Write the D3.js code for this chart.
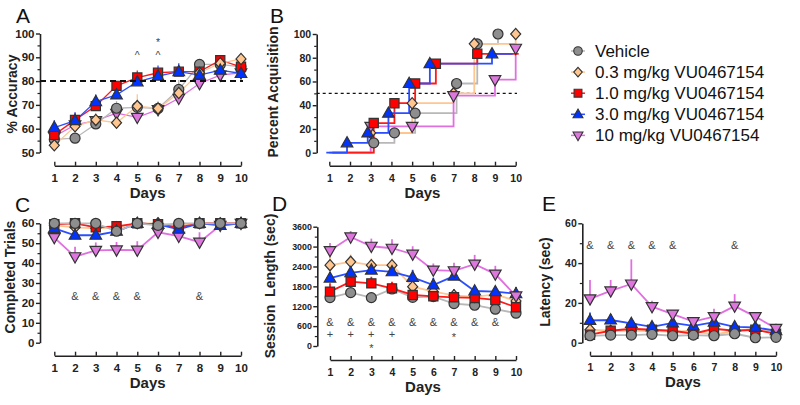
<!DOCTYPE html>
<html><head><meta charset="utf-8">
<script src="https://cdn.jsdelivr.net/npm/d3@7"></script>
<style>body{margin:0;background:#fff} svg{display:block;font-family:"Liberation Sans",Arial,sans-serif}</style>
</head><body><svg id="c" width="800" height="405"></svg>
<script>
// ---------- data ----------
const days = [1,2,3,4,5,6,7,8,9,10];
const groupKeys = ["veh","low","mid","h3","h10"];
const groupNames = ["Vehicle","0.3 mg/kg VU0467154","1.0 mg/kg VU0467154","3.0 mg/kg VU0467154","10 mg/kg VU0467154"];

// A: % accuracy
const accVeh = [55.5,56,62,68.6,69,68.5,76.5,87,87,86];
const accLow = [53,61,63.7,62.5,69.5,68.5,75,83.5,87.5,89.3];
const accMid = [57.4,63.7,69.5,78,81.5,83.5,84,84,88.8,86];
const accH3  = [60.5,63.4,71.4,74.2,79.7,82.1,84,82.5,84.6,83.2];
const accH10 = [56.7,61.6,63.4,66.5,64.8,68,72.8,79,82.5,83.5];
const accVehErr = [2,2,2,3,3,3,4,2,2,2];
const accLowErr = [2,2,3,2,5,2,3,2,2,2];
const accMidErr = [2,3,3,2,3,2,2,2,2,2];
const accH3Err  = [3,3.5,3,3,2.5,4.5,3.5,2,2,2];
const accH10Err = [2,2,2,2,3,2,2,2,2,2];
const accCriterion = 80;
const accMarkDays = [5,6,6];
const accMarkText = ["^","^","*"];
const accMarkValue = [89.4,89.4,94.6];

// B: percent acquisition (event days and cumulative %)
const acqVehDays = [3,4,5,7,8,9];      const acqVeh = [8.3,16.7,33.3,58.3,91.7,100];
const acqLowDays = [3,5,7,8,10];       const acqLow = [16.7,41.7,50,91.7,100];
const acqMidDays = [3,4,5,6,8];        const acqMid = [25,41.7,58.3,75,83.3];
const acqH3Days  = [2,3,4,5,6,9];      const acqH3  = [8.3,16.7,33.3,58.3,75,83.3];
const acqH10Days = [3,5,7,9,10];       const acqH10 = [22.2,22.2,48,61.5,88];
const acqCriterion = 50;

// C: completed trials
const trVeh = [60,60,60,56,60,59,60,60,60,60];
const trLow = [59,58,57.5,58,60,60,59,60,60,60];
const trMid = [59.5,60,58,58.5,60,59.5,58,60,60,60];
const trH3  = [57.5,54,54,56,60,59.5,57,60,59,60];
const trH10 = [52.8,43.2,46.4,46.6,46.5,55.5,53.5,50.5,59,60];
const trVehErr = [0.5,0.5,0.5,1,0.5,0.5,0.5,0.5,0.5,0.5];
const trLowErr = [1,1,1,1,0.5,0.5,1,0.5,0.5,0.5];
const trMidErr = [1,1,1,1,0.5,0.5,1,0.5,0.5,0.5];
const trH3Err  = [2,2,2,1,0.5,1,2,0.5,1,0.5];
const trH10Err = [3,5,4,4,4.5,2,2,5,1,0.5];
const trMarkDays = [2,3,4,5,8];
const trMarkValue = 21.6;

// D: session length
const slVeh = [1460,1610,1460,1720,1470,1490,1280,1230,1110,990];
const slLow = [2440,2540,2440,2440,1790,1640,1530,1480,1560,1360];
const slMid = [1640,1940,1890,1740,1540,1500,1470,1450,1390,1170];
const slH3  = [2050,2210,2290,2240,2070,1840,2110,1660,1640,1580];
const slH10 = [2880,3290,3010,2950,2770,2290,2270,2470,2170,1510];
const slVehErr = [100,100,100,100,100,100,100,100,100,100];
const slLowErr = [300,220,200,200,150,150,150,120,150,150];
const slMidErr = [250,150,200,200,150,150,250,120,150,150];
const slH3Err  = [180,200,180,180,230,220,150,150,150,200];
const slH10Err = [230,180,230,270,240,200,240,280,250,120];
const slAmpDays = [1,2,3,4,5,6,7,8,9];
const slAmpValue = 613;
const slPlusDays = [1,2,3,4];
const slPlusValue = 250;
const slStarDays = [3,7];
const slStarValue = [-181,157];

// E: latency
const latVeh = [3.5,3.8,3.8,4.2,3.5,3.8,3.5,4.5,2.5,2.7];
const latLow = [6.5,6,6,6,5.5,6,4,6,7,5];
const latMid = [4,6,7,6.5,6,4.5,7,6,6.5,4.5];
const latH3  = [11.2,11.4,9.7,8,10,8.5,10.3,8,7.7,6];
const latH10 = [22,26,29.5,18.1,14.4,10.6,13.1,18.4,13.1,7.2];
const latVehErr = [0.5,0.5,0.5,0.5,0.5,0.5,0.5,0.5,0.5,0.5];
const latLowErr = [1,1,1,1,1,1,1,1,1,1];
const latMidErr = [1,1,1,1,1,1,1,1,1,1];
const latH3Err  = [4,3,1.5,1,1.5,1,1.5,1,1,1];
const latH10Err = [9.5,5.5,12.4,3,2,1,4,6,1.5,1];
const latMarkDays = [1,2,3,4,5,8];
const latMarkValue = 47;

// ---------- style ----------
const sty = {
  veh:{fill:"#8e8e8e", line:"#b8b8b8", shape:"circle"},
  low:{fill:"#ffc690", line:"#ffc690", shape:"diamond"},
  mid:{fill:"#ff0000", line:"#ff1a1a", shape:"square"},
  h3: {fill:"#0033ff", line:"#2b4fff", shape:"up"},
  h10:{fill:"#dd77dd", line:"#e070e0", shape:"down"}
};
const ink = "#222";
function shapePath(s){
  if(s==="circle"){const r=5;return `M${r},0A${r},${r} 0 1,1 ${-r},0A${r},${r} 0 1,1 ${r},0Z`;}
  if(s==="square") return "M-4.6,-4.6H4.6V4.6H-4.6Z";
  if(s==="diamond") return "M0,-5.6L5,0L0,5.6L-5,0Z";
  if(s==="up") return "M0,-6.2L5.8,4L-5.8,4Z";
  return "M0,6.2L5.8,-4L-5.8,-4Z";
}
const svg = d3.select("#c");
const font = '"Liberation Sans",Arial,sans-serif';

function axes(g, x, y, o){
  const ya = g.append("g").attr("transform",`translate(${o.yAxisX},0)`)
    .call(d3.axisLeft(y).tickValues(o.yMajor).tickSize(4).tickSizeOuter(0).tickPadding(1.5).tickFormat(d3.format("d")));
  ya.select(".domain").attr("stroke",ink).attr("stroke-width",1.6);
  ya.selectAll(".tick line").attr("stroke",ink).attr("stroke-width",1.4);
  ya.selectAll("text").attr("font-family",font).attr("font-weight","bold").attr("font-size",o.yFont).attr("fill",ink);
  const ym = g.append("g").attr("transform",`translate(${o.yAxisX},0)`)
    .call(d3.axisLeft(y).tickValues(o.yMinor).tickSize(2.5).tickFormat(""));
  ym.select(".domain").remove();
  ym.selectAll(".tick line").attr("stroke",ink).attr("stroke-width",1.2);
  const xa = g.append("g").attr("transform",`translate(0,${o.xAxisY})`)
    .call(d3.axisBottom(x).tickValues(days).tickSize(-4).tickSizeOuter(0).tickFormat(d3.format("d")));
  xa.select(".domain").attr("stroke",ink).attr("stroke-width",1.6);
  xa.selectAll(".tick line").attr("stroke",ink).attr("stroke-width",1.4);
  xa.selectAll("text").attr("y",o.xLabGap).attr("dy",0).attr("font-family",font)
    .attr("font-weight","bold").attr("font-size",o.xFont).attr("fill",ink);
  g.append("text").attr("x",(x.range()[0]+x.range()[1])/2).attr("y",o.daysY)
    .attr("text-anchor","middle").attr("font-weight","bold").attr("font-size",15).attr("fill",ink).text("Days");
  g.append("text").attr("transform",`translate(${o.titleX},${o.titleY}) rotate(-90)`)
    .attr("text-anchor","middle").attr("font-weight","bold").attr("font-size",14).attr("fill",ink)
    .style("white-space","pre").text(o.title);
  g.append("text").attr("x",o.letter[1]).attr("y",o.letter[2]).attr("font-size",21).attr("fill","#111").text(o.letter[0]);
}

function drawLines(g, x, y, series, order, lw){
  const line = d3.line().x((d,i)=>x(days[i])).y(d=>y(d));
  order.forEach(k=>{
    const s = series[k];
    g.append("path").attr("d",line(s.v)).attr("fill","none").attr("stroke",sty[k].line).attr("stroke-width",lw);
  });
  order.forEach(k=>{
    const s = series[k];
    g.append("g").selectAll("line").data(s.v).join("line")
      .attr("x1",(d,i)=>x(days[i])).attr("x2",(d,i)=>x(days[i]))
      .attr("y1",d=>y(d)).attr("y2",(d,i)=>y(d+s.e[i]))
      .attr("stroke",sty[k].line).attr("stroke-width",lw);
  });
  order.forEach(k=>{
    const s = series[k];
    g.append("g").selectAll("path").data(s.v).join("path")
      .attr("d",shapePath(sty[k].shape))
      .attr("transform",(d,i)=>`translate(${x(days[i])},${y(d)})`)
      .attr("fill",sty[k].fill).attr("stroke","#333").attr("stroke-width",1.2);
  });
}

function marks(g, x, y, dArr, txt, vals, size){
  g.append("g").selectAll("text").data(dArr).join("text")
    .attr("x",d=>x(d)).attr("y",(d,i)=>y(Array.isArray(vals)?vals[i]:vals))
    .attr("text-anchor","middle").attr("font-size",size).attr("fill","#444")
    .text((d,i)=>Array.isArray(txt)?txt[i]:txt);
}

// ---------- Panel A ----------
{
  const g = svg.append("g");
  const x = d3.scaleLinear().domain([1,10]).range([54.3,241]);
  const y = d3.scaleLinear().domain([50,100]).range([152.5,33.5]);
  axes(g,x,y,{yAxisX:40,xAxisY:165.7,yMajor:[50,60,70,80,90,100],yMinor:[55,65,75,85,95],yFont:11.5,xFont:11.5,xLabGap:16.3,
    daysY:198,title:"% Accuracy",titleX:17,titleY:94,letter:["A",16,23]});
  drawLines(g,x,y,{
    veh:{v:accVeh,e:accVehErr},low:{v:accLow,e:accLowErr},mid:{v:accMid,e:accMidErr},h3:{v:accH3,e:accH3Err},h10:{v:accH10,e:accH10Err}},
    ["h10","veh","mid","low","h3"],1.3);
  g.append("line").attr("x1",40).attr("x2",243).attr("y1",y(accCriterion)).attr("y2",y(accCriterion))
    .attr("stroke","#111").attr("stroke-width",2).attr("stroke-dasharray","6,4");
  marks(g,x,y,accMarkDays,accMarkText,accMarkValue,10.5);
}

// ---------- Panel B ----------
{
  const g = svg.append("g");
  const x = d3.scaleLinear().domain([1,10]).range([329.3,515.7]);
  const y = d3.scaleLinear().domain([0,100]).range([152.7,34]);
  axes(g,x,y,{yAxisX:316.7,xAxisY:165.7,yMajor:[0,20,40,60,80,100],yMinor:[10,30,50,70,90],yFont:10.5,xFont:10.5,xLabGap:16,
    daysY:198,title:"Percent Acquisition",titleX:278,titleY:92,letter:["B",270,23]});
  g.append("line").attr("x1",316.7).attr("x2",517).attr("y1",y(acqCriterion)).attr("y2",y(acqCriterion))
    .attr("stroke","#111").attr("stroke-width",1.3).attr("stroke-dasharray","3,3");
  const acq = {veh:[acqVehDays,acqVeh],low:[acqLowDays,acqLow],mid:[acqMidDays,acqMid],h3:[acqH3Days,acqH3],h10:[acqH10Days,acqH10]};
  const off = {veh:3,low:0,mid:3,h3:-3,h10:0};
  const order = ["veh","low","h10","mid","h3"];
  const line = d3.line().x(d=>x(d[0])).y(d=>y(d[1]));
  order.forEach(k=>{
    const [dd,vv] = acq[k];
    const pts = [[1,0]]; let prev = 0;
    dd.forEach((d,i)=>{pts.push([d,prev]);pts.push([d,vv[i]]);prev=vv[i];});
    if(prev<100) pts.push([10,prev]);
    g.append("path").attr("d",line(pts)).attr("transform",`translate(${off[k]},0)`)
      .attr("fill","none").attr("stroke",sty[k].line).attr("stroke-width",1.8);
  });
  order.forEach(k=>{
    const [dd,vv] = acq[k];
    g.append("g").selectAll("path").data(dd).join("path")
      .attr("d",shapePath(sty[k].shape))
      .attr("transform",(d,i)=>`translate(${x(d)+off[k]},${y(vv[i])})`)
      .attr("fill",sty[k].fill).attr("stroke","#333").attr("stroke-width",1.2);
  });
}

// ---------- Panel C ----------
{
  const g = svg.append("g");
  const x = d3.scaleLinear().domain([1,10]).range([54.3,241]);
  const y = d3.scaleLinear().domain([0,60]).range([342.7,223.3]);
  axes(g,x,y,{yAxisX:40,xAxisY:355.7,yMajor:[0,10,20,30,40,50,60],yMinor:[5,15,25,35,45,55],yFont:11.5,xFont:11.5,xLabGap:16,
    daysY:388,title:"Completed Trials",titleX:15,titleY:277,letter:["C",15,212]});
  drawLines(g,x,y,{
    veh:{v:trVeh,e:trVehErr},low:{v:trLow,e:trLowErr},mid:{v:trMid,e:trMidErr},h3:{v:trH3,e:trH3Err},h10:{v:trH10,e:trH10Err}},
    ["h10","low","mid","h3","veh"],1.8);
  marks(g,x,y,trMarkDays,"&",trMarkValue,11);
}

// ---------- Panel D ----------
{
  const g = svg.append("g");
  const x = d3.scaleLinear().domain([1,10]).range([330,516]);
  const y = d3.scaleLinear().domain([0,3600]).range([346,226.7]);
  axes(g,x,y,{yAxisX:317.3,xAxisY:360,yMajor:[0,600,1200,1800,2400,3000,3600],yMinor:[300,900,1500,2100,2700,3300],yFont:8.8,xFont:10.5,xLabGap:16,
    daysY:392,title:"Session  Length (sec)",titleX:275,titleY:286,letter:["D",272,211]});
  drawLines(g,x,y,{
    veh:{v:slVeh,e:slVehErr},low:{v:slLow,e:slLowErr},mid:{v:slMid,e:slMidErr},h3:{v:slH3,e:slH3Err},h10:{v:slH10,e:slH10Err}},
    ["veh","low","mid","h3","h10"],1.8);
  marks(g,x,y,slAmpDays,"&",slAmpValue,11);
  marks(g,x,y,slPlusDays,"+",slPlusValue,11);
  marks(g,x,y,slStarDays,"*",slStarValue,11);
}

// ---------- Panel E ----------
{
  const g = svg.append("g");
  const x = d3.scaleLinear().domain([1,10]).range([590,776]);
  const y = d3.scaleLinear().domain([0,60]).range([342.7,223.3]);
  axes(g,x,y,{yAxisX:582.3,xAxisY:355.7,yMajor:[0,20,40,60],yMinor:[10,30,50],yFont:10.5,xFont:10.5,xLabGap:15.5,
    daysY:387,title:"Latency (sec)",titleX:550,titleY:282,letter:["E",542,211]});
  drawLines(g,x,y,{
    veh:{v:latVeh,e:latVehErr},low:{v:latLow,e:latLowErr},mid:{v:latMid,e:latMidErr},h3:{v:latH3,e:latH3Err},h10:{v:latH10,e:latH10Err}},
    ["low","mid","h3","h10","veh"],1.8);
  marks(g,x,y,latMarkDays,"&",latMarkValue,11);
}

// ---------- Legend ----------
{
  const g = svg.append("g");
  groupKeys.forEach((k,i)=>{
    const cy = 51 + i*21.1;
    g.append("line").attr("x1",571).attr("x2",585).attr("y1",cy).attr("y2",cy).attr("stroke",sty[k].line).attr("stroke-width",1.5);
    g.append("path").attr("d",shapePath(sty[k].shape)).attr("transform",`translate(578,${cy}) scale(0.85)`)
      .attr("fill",sty[k].fill).attr("stroke","#333").attr("stroke-width",1.3);
    g.append("text").attr("x",595).attr("y",cy+6).attr("font-size",17).attr("fill","#111").text(groupNames[i]);
  });
}
</script></body></html>
